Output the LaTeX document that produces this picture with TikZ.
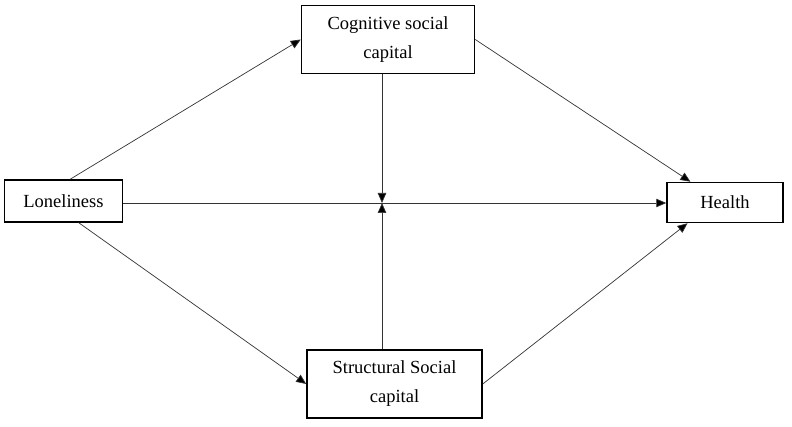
\documentclass[tikz,border=0pt]{standalone}
\usepackage{fontspec}
\setmainfont{Liberation Serif}
\usetikzlibrary{arrows.meta}
\begin{document}
\begin{tikzpicture}[x=1pt,y=-1pt,
  box/.style={draw=black,line width=1.5pt,rectangle,align=center,inner sep=0pt,
    font=\fontsize{18.5}{29}\selectfont},
  conn/.style={draw=black!80,line width=0.7pt,-{Triangle[length=10pt,width=8.5pt,fill=black]}}]
\useasboundingbox (0,0) rectangle (792,427);
\node[box,minimum width=118pt,minimum height=42pt] (lon) at (63.5,201) {Loneliness};
\node[box,minimum width=173pt,minimum height=68pt] (cog) at (388,39.5) {Cognitive social\\capital};
\node[box,minimum width=175pt,minimum height=68pt] (str) at (394.5,384) {Structural Social\\capital};
\node[box,minimum width=116pt,minimum height=40pt] (hea) at (725,202.5) {Health};
\coordinate (m) at (382,203);
\draw[conn] (lon.73) -- (cog.west);
\draw[conn] (lon.-55) -- (str.west);
\draw[conn] (lon.east |- m) -- (hea.west |- m);
\draw[conn] (cog.south -| m) -- (m);
\draw[conn] (str.north -| m) -- (m);
\draw[conn] (cog.east) -- (hea.149);
\draw[conn] (str.east) -- (hea.209);
\end{tikzpicture}
\end{document}
